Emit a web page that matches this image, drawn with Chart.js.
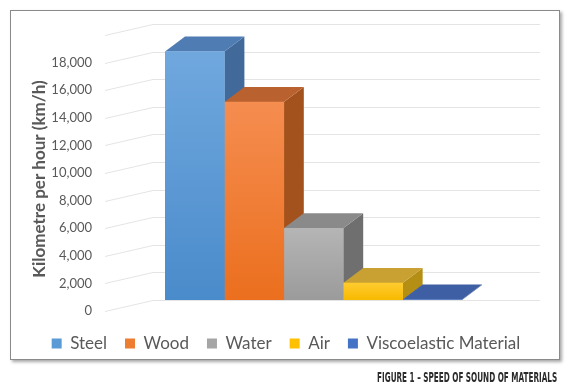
<!DOCTYPE html>
<html>
<head>
<meta charset="utf-8">
<script src="https://cdn.jsdelivr.net/npm/chart.js@4.4.1/dist/chart.umd.min.js"></script>
<style>
  body { margin: 0; background: #fff; }
  #wrap { position: relative; width: 572px; height: 385px; overflow: hidden; }
  .frame {
    position: absolute; left: 10px; top: 10px; width: 548px; height: 348px;
    border: 1px solid #8a8a8a; box-shadow: 2px 2px 3px rgba(0,0,0,0.35); background: #fff;
  }
  #chart { position: absolute; left: 0; top: 0; }
  .caption {
    position: absolute; right: 15px; top: 369px; white-space: nowrap;
    font-family: "Liberation Sans Narrow", "DejaVu Sans Condensed", sans-serif;
    font-weight: bold; font-size: 14px; line-height: 16px; color: #2b2b2b;
    transform-origin: right center;
  }
</style>
</head>
<body>
<div id="wrap">
  <div class="frame"></div>
  <canvas id="chart" width="572" height="385"></canvas>
  <div class="caption" id="caption">FIGURE 1 – SPEED OF SOUND OF MATERIALS</div>
</div>
<script>
// data
const materials = ["Steel", "Wood", "Water", "Air", "Viscoelastic Material"];
const speeds = [18000, 14350, 5200, 1230, 30]; // km/h
const yMax = 20000;
const yStep = 2000;

// colours
const legendColors = ["#5b9bd5", "#ed7d31", "#a5a5a5", "#ffc000", "#4472c4"];
const frontTop = ["#70a8de", "#f58d50", "#b5b5b5", "#ffcb2e", "#4a72c0"];
const frontBottom = ["#4a8bcb", "#eb6f1e", "#9b9b9b", "#f7b900", "#4068b5"];
const topColors = ["#4f7db3", "#b9622f", "#8a8a8a", "#c9a133", "#3e5fa3"];
const sideColors = ["#41699a", "#a3521d", "#6f6f6f", "#b58f14", "#2f4d8a"];

const depthX = 20, depthY = 15;   // bar depth
const wallX = 48, wallY = 11;     // back wall offset from tick labels
const wallRight = 540;

// squeeze the caption to the narrow width of the original
const cap = document.getElementById("caption");
cap.style.transform = "scaleX(" + (180 / cap.offsetWidth) + ")";

function frontFill(i) {
    return function (c) {
        const chart = c.chart;
        const area = chart.chartArea;
        if (!area) return frontTop[i];
        const y = chart.scales.y.getPixelForValue(speeds[i]);
        const g = chart.ctx.createLinearGradient(0, y, 0, area.bottom);
        g.addColorStop(0, frontTop[i]);
        g.addColorStop(1, frontBottom[i]);
        return g;
    };
}

const depthPlugin = {
    id: "depth",
    beforeDatasetsDraw(chart) {
        const ctx = chart.ctx;
        const yScale = chart.scales.y;
        const left = chart.chartArea.left - 12;

        // back wall grid with slanted lines towards the labels
        ctx.save();
        ctx.strokeStyle = "#e4e4e4";
        ctx.lineWidth = 1;
        for (let v = 0; v <= yMax; v += yStep) {
            const y = Math.round(yScale.getPixelForValue(v)) + 0.5;
            ctx.beginPath();
            ctx.moveTo(left - wallX, y + wallY);
            ctx.lineTo(left, y);
            ctx.lineTo(wallRight, y);
            ctx.stroke();
        }
        ctx.restore();

        // tops and sides of the bars, fronts come after
        chart.data.datasets.forEach(function (ds, i) {
            const bar = chart.getDatasetMeta(i).data[0];
            if (!bar) return;
            const l = bar.x - bar.width / 2;
            const r = bar.x + bar.width / 2;
            const t = bar.y;
            const b = bar.base;
            ctx.save();
            ctx.fillStyle = sideColors[i];
            ctx.beginPath();
            ctx.moveTo(r, t);
            ctx.lineTo(r + depthX, t - depthY);
            ctx.lineTo(r + depthX, b - depthY);
            ctx.lineTo(r, b);
            ctx.closePath();
            ctx.fill();
            ctx.fillStyle = topColors[i];
            ctx.beginPath();
            ctx.moveTo(l, t);
            ctx.lineTo(l + depthX, t - depthY);
            ctx.lineTo(r + depthX, t - depthY);
            ctx.lineTo(r, t);
            ctx.closePath();
            ctx.fill();
            ctx.restore();
        });
    },
    afterDraw(chart) {
        const ctx = chart.ctx;
        ctx.save();
        ctx.translate(40, 179);
        ctx.rotate(-Math.PI / 2);
        ctx.font = "bold 17px Lato";
        ctx.fillStyle = "#595959";
        ctx.textAlign = "center";
        ctx.textBaseline = "middle";
        ctx.fillText("Kilometre per hour (km/h)", 0, 0);
        ctx.restore();
    }
};

new Chart(document.getElementById("chart"), {
    type: "bar",
    data: {
        labels: ["Speed of sound"],
        datasets: materials.map(function (name, i) {
            return {
                label: name,
                data: [speeds[i]],
                backgroundColor: frontFill(i),
                borderWidth: 0,
                categoryPercentage: 1,
                barPercentage: 1
            };
        })
    },
    options: {
        responsive: false,
        animation: false,
        layout: { padding: { top: 24, bottom: 23, left: 0, right: 0 } },
        scales: {
            x: {
                ticks: { display: false },
                grid: { display: false },
                border: { display: false },
                afterFit: function (s) { s.height = 17; }
            },
            y: {
                min: 0,
                max: yMax,
                grid: { display: false, drawTicks: false },
                border: { display: false },
                ticks: {
                    stepSize: yStep,
                    padding: 73,
                    labelOffset: 11,
                    color: "#595959",
                    font: { family: "Lato", size: 13 },
                    callback: function (v) {
                        return v >= yMax ? "" : v.toLocaleString("en-US");
                    }
                },
                afterFit: function (s) {
                    s.width = 165;
                    s.paddingTop = 0;
                    s.paddingBottom = 0;
                }
            },
            yR: {
                position: "right",
                min: 0,
                max: 1,
                ticks: { display: false },
                grid: { display: false, drawTicks: false },
                border: { display: false },
                afterFit: function (s) { s.width = 110; }
            }
        },
        plugins: {
            tooltip: { enabled: false },
            legend: {
                position: "bottom",
                labels: {
                    boxWidth: 10,
                    boxHeight: 10,
                    padding: 18,
                    color: "#595959",
                    font: { family: "Lato", size: 17 },
                    generateLabels: function (chart) {
                        return chart.data.datasets.map(function (ds, i) {
                            return {
                                text: ds.label,
                                fillStyle: legendColors[i],
                                strokeStyle: legendColors[i],
                                lineWidth: 0,
                                fontColor: "#595959",
                                datasetIndex: i
                            };
                        });
                    }
                }
            }
        }
    },
    plugins: [depthPlugin]
});
</script>
</body>
</html>
